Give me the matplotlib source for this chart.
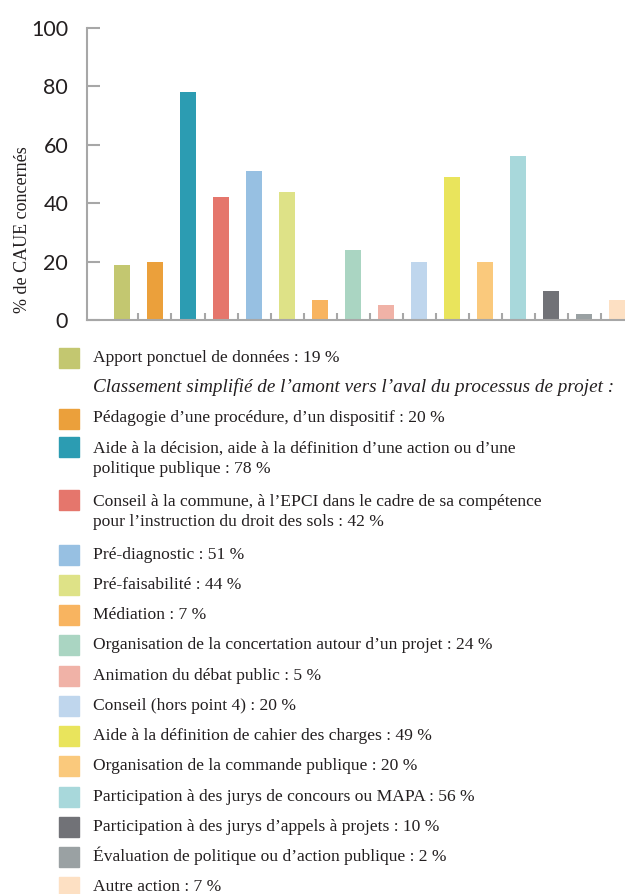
import matplotlib
matplotlib.use("Agg")
import matplotlib.pyplot as plt
from matplotlib.patches import Rectangle
import numpy as np

# --- Données ---
VALEURS = [19, 20, 78, 42, 51, 44, 7, 24, 5, 20, 49, 20, 56, 10, 2, 7]
COULEURS = ["#C3C770", "#EBA03B", "#2C9CB2", "#E5766C", "#97C0E2", "#DEE287",
            "#F8B460", "#AAD5C2", "#F0B2A7", "#BFD6ED", "#E9E45C", "#FAC97C",
            "#A8D8DB", "#717277", "#9AA1A3", "#FDE0C3"]
LIBELLES = [
    "Apport ponctuel de données : 19 %",
    "Pédagogie d’une procédure, d’un dispositif : 20 %",
    "Aide à la décision, aide à la définition d’une action ou d’une\npolitique publique : 78 %",
    "Conseil à la commune, à l’EPCI dans le cadre de sa compétence\npour l’instruction du droit des sols : 42 %",
    "Pré-diagnostic : 51 %",
    "Pré-faisabilité : 44 %",
    "Médiation : 7 %",
    "Organisation de la concertation autour d’un projet : 24 %",
    "Animation du débat public : 5 %",
    "Conseil (hors point 4) : 20 %",
    "Aide à la définition de cahier des charges : 49 %",
    "Organisation de la commande publique : 20 %",
    "Participation à des jurys de concours ou MAPA : 56 %",
    "Participation à des jurys d’appels à projets : 10 %",
    "Évaluation de politique ou d’action publique : 2 %",
    "Autre action : 7 %",
]
SOUS_TITRE = "Classement simplifié de l’amont vers l’aval du processus de projet :"
Y_TICKS = [0, 20, 40, 60, 80, 100]
Y_LABEL = "% de CAUE concernés"

GRIS = "#A7A7A7"
TEXTE = "#231F20"
W, H = 625, 894

fig = plt.figure(figsize=(W / 100, H / 100), dpi=100)
ax = fig.add_axes([87 / W, (H - 320) / H, 538 / W, 292 / H])

x = np.arange(len(VALEURS))
ax.bar(x, VALEURS, width=0.48, color=COULEURS, zorder=1)
ax.set_xlim(-1.06, 15.24)
ax.set_ylim(0, 100)

for s in ["top", "right"]:
    ax.spines[s].set_visible(False)
for s in ["left", "bottom"]:
    ax.spines[s].set_color(GRIS)
    ax.spines[s].set_linewidth(1.5)
    ax.spines[s].set_zorder(3)

ax.set_yticks(Y_TICKS)
ax.set_yticklabels([str(v) for v in Y_TICKS], family="Lato", fontsize=15.5, color=TEXTE)
ax.tick_params(axis="y", direction="in", length=9.4, width=1.5, color=GRIS, pad=13.5)
ax.set_xticks([])
ax.set_xticks(x[:-1] + 0.5, minor=True)
ax.tick_params(axis="x", which="minor", direction="in", length=5, width=1.5, color=GRIS)
ax.tick_params(axis="x", which="major", length=0, labelbottom=False)

ax.set_ylabel(Y_LABEL, family="Liberation Serif", fontsize=13, color=TEXTE)
ax.yaxis.set_label_coords((31 - 87) / 538, (320 - 230) / 292)

# --- Légende dessinée à la main ---
rangees = [(LIBELLES[0], COULEURS[0], False), (SOUS_TITRE, None, True)]
rangees += [(l, c, False) for l, c in zip(LIBELLES[1:], COULEURS[1:])]

base = 362.0
for texte, couleur, italique in rangees:
    lignes = texte.split("\n")
    for k, ligne in enumerate(lignes):
        fig.text(93 / W, 1 - (base + 20.5 * k) / H, ligne, family="Liberation Serif",
                 style="italic" if italique else "normal",
                 fontsize=13.8 if italique else 12.6,
                 ha="left", va="baseline", color=TEXTE)
    if couleur:
        cy = base - (6 if len(lignes) > 1 else 4)
        fig.patches.append(Rectangle((59 / W, 1 - (cy + 10) / H), 20 / W, 20 / H,
                                     transform=fig.transFigure, color=couleur))
    base += 30.25 + 22.7 * (len(lignes) - 1)

fig.savefig("out.png", dpi=100)
